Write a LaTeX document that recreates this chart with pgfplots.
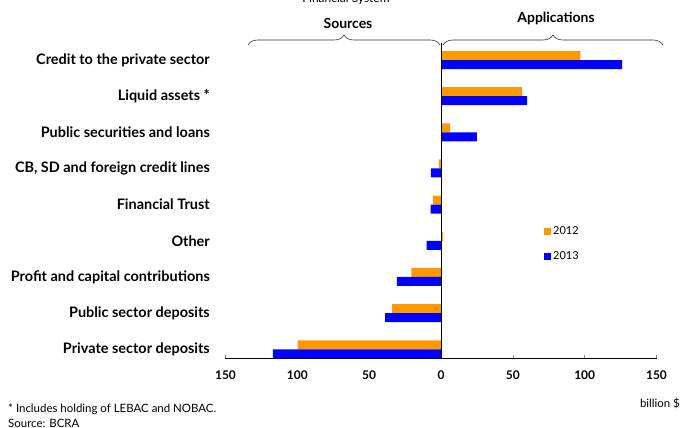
\documentclass[border=0pt]{standalone}
\usepackage{pgfplots}
\pgfplotsset{compat=1.18}
\usepackage{fontspec}
\setmainfont{Lato}
\usetikzlibrary{decorations.pathreplacing}
\definecolor{orA}{HTML}{FF9900}
\definecolor{blB}{HTML}{0000FF}
\begin{document}
\begin{tikzpicture}
\path[use as bounding box] (0,0) rectangle (680bp,428bp);
\begin{axis}[
  at={(441bp,78.7bp)}, anchor=origin,
  x=1.4367bp, y=36.16bp,
  xmin=-150, xmax=150, ymin=-0.24, ymax=8.47,
  axis x line*=bottom, axis y line*=left,
  y axis line style={draw=none},
  xtick={-150,-100,-50,0,50,100,150},
  xticklabels={150,100,50,0,50,100,150},
  xticklabel style={font=\bfseries\fontsize{12}{14}\selectfont, anchor=north, inner sep=0pt, yshift=-13bp},
  xtick align=inside, major tick length=3bp,
  tick style={gray, line width=0.4pt},
  x axis line style={line width=0.8pt},
  ytick={0,...,8},
  yticklabels={Private sector deposits,Public sector deposits,Profit and capital contributions,Other,Financial Trust,{CB, SD and foreign credit lines},Public securities and loans,Liquid assets *,Credit to the private sector},
  yticklabel style={font=\bfseries\fontsize{14.5}{16}\selectfont, anchor=east, inner sep=0pt, xshift=-12.5bp},
  ytick style={draw=none},
  xbar, bar width=9bp,
  clip=false,
  legend style={at={(axis cs:71.7,3.45)}, anchor=north west, draw=none, fill=none,
    font=\fontsize{11}{13}\selectfont, row sep=11.5bp, inner sep=0pt, cells={anchor=west}},
  legend image code/.code={\fill[#1,draw=none] (0bp,-3.5bp) rectangle (7bp,3.5bp);},
]
\addplot[fill=orA, draw=none, bar shift=4.5bp] coordinates {
(-99.8,0) (-34,1) (-20.7,2) (1.4,3) (-5.6,4) (-1.5,5) (6.3,6) (56.5,7) (97,8)};
\addlegendentry{2012}
\addplot[fill=blB, draw=none, bar shift=-4.5bp] coordinates {
(-117,0) (-38.9,1) (-30.7,2) (-10,3) (-7.2,4) (-7,5) (25,6) (60,7) (126,8)};
\addlegendentry{2013}
\draw[black, line width=0.8pt] (axis cs:0,-0.24) -- (axis cs:0,8.47);
\end{axis}
\draw[decorate, decoration={brace, amplitude=10bp}, line width=0.6pt, black!80]
  (248bp,383bp) -- (440bp,383bp);
\draw[decorate, decoration={brace, amplitude=10bp}, line width=0.6pt, black!80]
  (443bp,383bp) -- (663bp,383bp);
\node[font=\fontsize{12}{14}\selectfont] at (346bp,429bp) {Financial System};
\node[font=\bfseries\fontsize{14}{16}\selectfont] at (348bp,405bp) {Sources};
\node[font=\bfseries\fontsize{14}{16}\selectfont] at (556bp,410bp) {Applications};
\node[font=\fontsize{11.5}{13}\selectfont, anchor=east, inner sep=0pt] at (680bp,25bp) {billion \$};
\node[font=\fontsize{11.5}{13}\selectfont, anchor=west, inner sep=0pt] at (8bp,19bp) {* Includes holding of LEBAC and NOBAC.};
\node[font=\fontsize{11.5}{13}\selectfont, anchor=west, inner sep=0pt] at (8bp,5bp) {Source: BCRA};
\end{tikzpicture}
\end{document}
